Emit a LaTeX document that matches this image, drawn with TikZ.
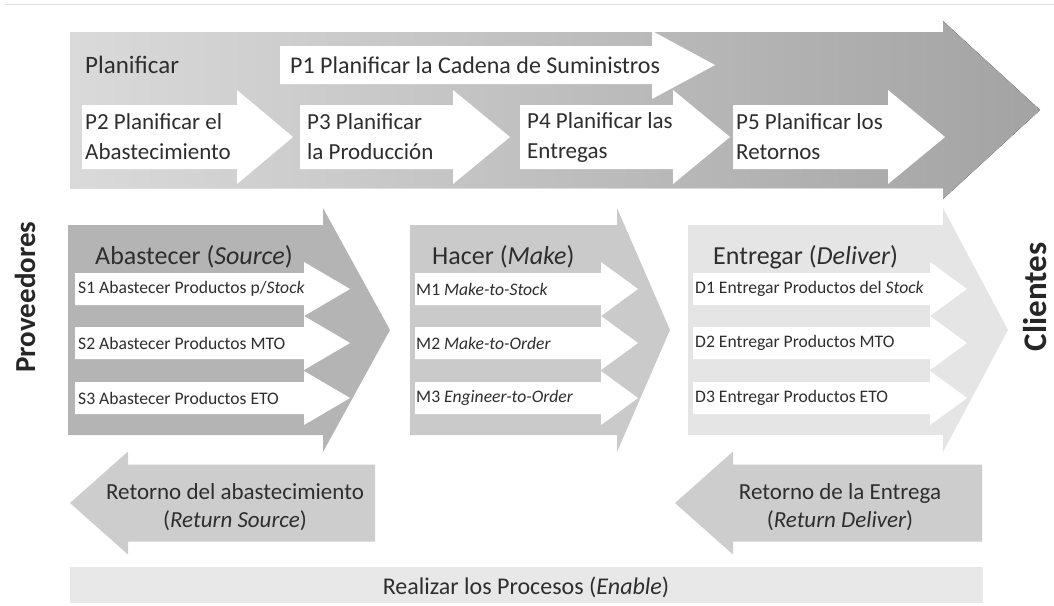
\documentclass[tikz,border=0pt]{standalone}
\usepackage{fontspec}
\setmainfont{Carlito}
\usetikzlibrary{positioning}
\definecolor{txt}{HTML}{2E2E2E}
\definecolor{planL}{HTML}{DADADA}
\definecolor{planM}{HTML}{BEBEBE}
\definecolor{planR}{HTML}{A3A3A3}
\definecolor{srcgray}{HTML}{B4B4B4}
\definecolor{makegray}{HTML}{CACACA}
\definecolor{delgray}{HTML}{E5E5E5}
\definecolor{retgray}{HTML}{CDCDCD}
\definecolor{enagray}{HTML}{E8E8E8}
% flat arrow: style, tail x, head base x, tip x, mid y, half body, half head
\newcommand{\flecha}[7]{%
  \fill[#1] (#2,#5-#6) -- (#3,#5-#6) -- (#3,#5-#7) -- (#4,#5)
    -- (#3,#5+#7) -- (#3,#5+#6) -- (#2,#5+#6) -- cycle;}
\begin{document}
\begin{tikzpicture}[x=1pt,y=-1pt,
  every node/.style={text=txt,inner sep=0pt},
  ptext/.style={anchor=west,align=left,font=\fontsize{23}{30}\selectfont},
  stitle/.style={anchor=west,font=\fontsize{26}{30}\selectfont},
  itext/.style={anchor=west,font=\fontsize{17.6}{21}\selectfont},
  rtext/.style={align=center,font=\fontsize{23}{28}\selectfont},
  side/.style={font=\fontsize{29}{32}\selectfont\bfseries,text=black!85,rotate=90}]
  \useasboundingbox (0,0) rectangle (1054,605);
  \draw[gray!25,line width=1pt] (5,4) -- (1054,4);

  % Planificar
  \flecha{left color=planL,middle color=planM,right color=planR}{70}{943}{1040}{110}{78}{89}
  \flecha{fill=white}{280}{652}{715}{65}{19}{34}
  \foreach \a/\b/\c in {82/237/293,300/453/510,520/673/730,733/888/945}
    {\flecha{fill=white}{\a}{\b}{\c}{137}{32}{47}}
  \node[stitle,font=\fontsize{25}{30}\selectfont] (plan) at (85,65) {Planificar};
  \node[ptext,font=\fontsize{24}{30}\selectfont] (p1) at (290,65) {P1 Planificar la Cadena de Suministros};
  \node[ptext] (p2) at (85,137) {P2 Planificar el\\Abastecimiento};
  \node[ptext] (p3) at (307,137) {P3 Planificar\\la Producción};
  \node[ptext] (p4) at (527,137) {P4 Planificar las\\Entregas};
  \node[ptext] (p5) at (736,137) {P5 Planificar los\\Retornos};

  % Abastecer / Hacer / Entregar
  \flecha{fill=srcgray}{68}{323}{390}{330}{105}{122}
  \flecha{fill=makegray}{410}{617}{670}{330}{105}{122}
  \flecha{fill=delgray}{688}{943}{1008}{330}{105}{122}
  \foreach \y in {289,343,398} {
    \flecha{fill=white}{75}{304}{350}{\y}{16}{27}
    \flecha{fill=white}{415}{601}{638}{\y}{16}{27}
    \flecha{fill=white}{693}{930}{967}{\y}{16}{27}
  }
  \node[stitle] (src) at (95,257) {Abastecer (\textit{Source})};
  \node[itext] (s1) at (78,289) {S1 Abastecer Productos p/\textit{Stock}};
  \node[itext] (s2) at (78,343) {S2 Abastecer Productos MTO};
  \node[itext] (s3) at (78,398) {S3 Abastecer Productos ETO};
  \node[stitle] (make) at (432,257) {Hacer (\textit{Make})};
  \node[itext] (m1) at (416,289) {M1 \textit{Make-to-Stock}};
  \node[itext] (m2) at (416,343) {M2 \textit{Make-to-Order}};
  \node[itext] (m3) at (416,398) {M3 \textit{Engineer-to-Order}};
  \node[stitle] (del) at (713,257) {Entregar (\textit{Deliver})};
  \node[itext] (d1) at (695,289) {D1 Entregar Productos del \textit{Stock}};
  \node[itext] (d2) at (695,343) {D2 Entregar Productos MTO};
  \node[itext] (d3) at (695,398) {D3 Entregar Productos ETO};

  \node[side] (prov) at (25,297) {Proveedores};
  \node[side,font=\fontsize{33}{36}\selectfont\bfseries] (cli) at (1035,297) {Clientes};

  % Retornos
  \flecha{fill=retgray}{375}{128}{70}{503}{38.5}{51.5}
  \flecha{fill=retgray}{982}{733}{675}{503}{38.5}{51.5}
  \node[rtext] (retsrc) at (235,507) {Retorno del abastecimiento\\(\textit{Return Source})};
  \node[rtext] (retdel) at (840,507) {Retorno de la Entrega\\(\textit{Return Deliver})};

  % Enable
  \fill[enagray] (70,567) rectangle (983,603);
  \node[font=\fontsize{24}{28}\selectfont] (enable) at (526,587) {Realizar los Procesos (\textit{Enable})};
\end{tikzpicture}
\end{document}
